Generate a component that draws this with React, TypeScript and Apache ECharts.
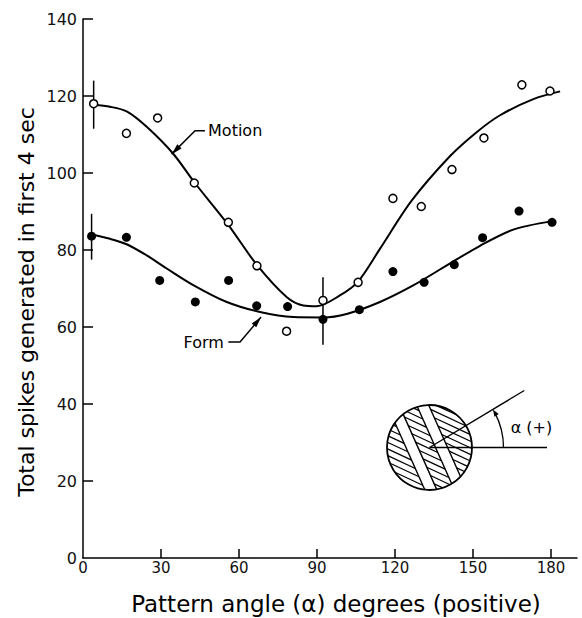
import React, { useEffect, useRef } from "react";
import * as echarts from "echarts";

// ---- Data ----
const motionAngles = [4.1, 16.7, 28.7, 42.8, 55.9, 66.9, 78.3, 92.3, 105.8, 119.2, 130.1, 141.9, 154.2, 168.8, 179.6];
const motionSpikes = [118, 110.3, 114.3, 97.4, 87.2, 75.9, 58.9, 66.9, 71.6, 93.4, 91.3, 100.9, 109.1, 122.9, 121.3];

const formAngles = [3.3, 16.7, 29.5, 43.2, 56, 66.8, 78.7, 92.3, 106.3, 119.2, 131.2, 142.8, 153.7, 167.7, 180.4];
const formSpikes = [83.6, 83.3, 72.1, 66.5, 72.1, 65.5, 65.3, 62.0, 64.5, 74.4, 71.6, 76.2, 83.2, 90.1, 87.2];

// fitted curves
const motionCurveX = [4.1, 10.4, 16.8, 24.5, 34.7, 42.8, 55.8, 66.8, 78.3, 84.7, 89.9, 98.8, 105.8, 114.2, 126.4, 141.2, 151.4, 160.4, 173.2, 183.5];
const motionCurveY = [117.7, 117.2, 116.0, 112.0, 105.0, 97.6, 86.6, 76.2, 67.8, 65.6, 65.4, 68.2, 71.8, 80.3, 92.8, 104.4, 110.6, 115.0, 119.2, 121.2];

const formCurveX = [3.3, 10.4, 16.8, 24.5, 32.2, 42.4, 55.3, 68.1, 80.9, 92.3, 101.4, 114.2, 127, 139.9, 152.7, 165.5, 180.4];
const formCurveY = [84, 82.9, 81.5, 78.6, 75.2, 70.9, 66.5, 63.9, 62.6, 62.5, 63.4, 66.5, 70.8, 76, 81.1, 85.3, 87.5];

// error bars
const errorBarAngles = [4.1, 3.3, 92.3];
const errorBarLow = [111.5, 77.5, 55.4];
const errorBarHigh = [124, 89.4, 72.9];

// axis ticks
const xTickValues = [0, 30, 60, 90, 120, 150, 180];
const yTickValues = [0, 20, 40, 60, 80, 100, 120, 140];

// annotations (data coordinates)
const motionLabel = { text: "Motion", at: [48.1, 111] };
const motionLeader = [[46.9, 111], [43.1, 111], [34.1, 104.9]];
const formLabel = { text: "Form", at: [54.2, 56.1] };
const formLeader = [[55.9, 56.1], [60.4, 56.1], [68.5, 62.6]];

const FONT = "DejaVu Sans";

function arrowHead(tip: number[], from: number[], len = 10, half = 3) {
  const dx = tip[0] - from[0];
  const dy = tip[1] - from[1];
  const d = Math.hypot(dx, dy) || 1;
  const ux = dx / d, uy = dy / d;
  const bx = tip[0] - ux * len, by = tip[1] - uy * len;
  return [tip, [bx - uy * half, by + ux * half], [bx + uy * half, by - ux * half]];
}

function buildInset(): any[] {
  const cx = 429.5, cy = 447.5, R = 42.5;
  const els: any[] = [];
  const a = (25 * Math.PI) / 180; // hatch direction
  const hx = Math.cos(a), hy = Math.sin(a);
  const mx = -hy, my = hx;
  const b = (66 * Math.PI) / 180; // band direction
  const dx = Math.cos(b), dy = Math.sin(b);
  const nx = Math.sin(b), ny = -Math.cos(b);
  const edges = [-21.5, -10.5, 5.5, 16.5];
  const hatched = [[-R, edges[0]], [edges[1], edges[2]], [edges[3], R]];
  const mn = mx * nx + my * ny;
  const hn = hx * nx + hy * ny;
  for (let off = -R + 1.5; off < R; off += 6) {
    const half = Math.sqrt(R * R - off * off);
    for (const [v0, v1] of hatched) {
      let t0 = (v0 - off * mn) / hn;
      let t1 = (v1 - off * mn) / hn;
      if (t0 > t1) [t0, t1] = [t1, t0];
      const s0 = Math.max(t0, -half), s1 = Math.min(t1, half);
      if (s1 > s0) {
        els.push({
          type: "line",
          shape: {
            x1: cx + off * mx + s0 * hx, y1: cy + off * my + s0 * hy,
            x2: cx + off * mx + s1 * hx, y2: cy + off * my + s1 * hy,
          },
          style: { stroke: "#000", lineWidth: 1.2 },
          silent: true,
        });
      }
    }
  }
  for (const v of edges) {
    const half = Math.sqrt(R * R - v * v);
    els.push({
      type: "line",
      shape: {
        x1: cx + v * nx - half * dx, y1: cy + v * ny - half * dy,
        x2: cx + v * nx + half * dx, y2: cy + v * ny + half * dy,
      },
      style: { stroke: "#000", lineWidth: 1.4 },
      silent: true,
    });
  }
  els.push({ type: "circle", shape: { cx, cy, r: R }, style: { fill: "none", stroke: "#000", lineWidth: 1.8 }, silent: true });
  els.push({ type: "line", shape: { x1: cx, y1: cy, x2: 547, y2: cy }, style: { stroke: "#000", lineWidth: 1.3 } });
  const ang = (31 * Math.PI) / 180;
  els.push({
    type: "line",
    shape: { x1: cx, y1: cy, x2: cx + 110.6 * Math.cos(ang), y2: cy - 110.6 * Math.sin(ang) },
    style: { stroke: "#000", lineWidth: 1.3 },
  });
  const ar = 74;
  els.push({
    type: "arc",
    shape: { cx, cy, r: ar, startAngle: -ang + 0.05, endAngle: 0, clockwise: true },
    style: { stroke: "#000", lineWidth: 1.3, fill: "none" },
  });
  const tip = [cx + ar * Math.cos(ang), cy - ar * Math.sin(ang)];
  const from = [tip[0] + 0.515 * 8, tip[1] + 0.857 * 8];
  els.push({ type: "polygon", shape: { points: arrowHead(tip, from, 7, 2.5) }, style: { fill: "#000" } });
  els.push({
    type: "text",
    x: 531.5,
    y: 427,
    style: { text: "α (+)", font: `16px "${FONT}"`, fill: "#000", align: "center", verticalAlign: "middle" },
  });
  return els;
}

export default function App() {
  const ref = useRef<HTMLDivElement>(null);
  useEffect(() => {
    if (!ref.current) return;
    const chart = echarts.init(ref.current, null, { renderer: "svg" });
    const zip = (xs: number[], ys: number[]) => xs.map((x, i) => [x, ys[i]]);
    chart.setOption({
      animation: false,
      backgroundColor: "#fff",
      grid: { left: 83, right: 5, top: 19, bottom: 60 },
      xAxis: {
        type: "value",
        min: 0,
        max: 190,
        interval: 30,
        splitLine: { show: false },
        axisLine: { lineStyle: { color: "#000", width: 1.5 } },
        axisTick: { inside: true, length: 9, customValues: xTickValues.slice(1), lineStyle: { color: "#000", width: 1.5 } },
        axisLabel: { customValues: xTickValues, margin: 2, color: "#111", fontFamily: FONT, fontSize: 15 },
      },
      yAxis: {
        type: "value",
        min: 0,
        max: 140,
        interval: 20,
        splitLine: { show: false },
        axisLine: { lineStyle: { color: "#000", width: 1.5 } },
        axisTick: { inside: true, length: 10, customValues: yTickValues.slice(1), lineStyle: { color: "#000", width: 1.5 } },
        axisLabel: { customValues: yTickValues, margin: 6, color: "#111", fontFamily: FONT, fontSize: 16 },
      },
      series: [
        {
          type: "line",
          data: zip(motionCurveX, motionCurveY),
          smooth: 0.3,
          symbol: "none",
          lineStyle: { color: "#000", width: 2 },
          z: 2,
        },
        {
          type: "line",
          data: zip(formCurveX, formCurveY),
          smooth: 0.3,
          symbol: "none",
          lineStyle: { color: "#000", width: 2 },
          z: 2,
        },
        {
          type: "custom",
          data: errorBarAngles.map((x, i) => [x, errorBarLow[i], errorBarHigh[i]]),
          renderItem: (params: any, api: any) => {
            const p1 = api.coord([api.value(0), api.value(1)]);
            const p2 = api.coord([api.value(0), api.value(2)]);
            return {
              type: "line",
              shape: { x1: p1[0], y1: p1[1], x2: p2[0], y2: p2[1] },
              style: { stroke: "#000", lineWidth: 1.5 },
            };
          },
          z: 3,
        },
        {
          type: "scatter",
          data: zip(motionAngles, motionSpikes),
          symbol: "circle",
          symbolSize: 8,
          itemStyle: { color: "#fff", borderColor: "#000", borderWidth: 1.5, opacity: 1 },
          z: 4,
        },
        {
          type: "scatter",
          data: zip(formAngles, formSpikes),
          symbol: "circle",
          symbolSize: 9,
          itemStyle: { color: "#000", opacity: 1 },
          z: 4,
        },
      ],
    });

    const px = (p: number[]) => chart.convertToPixel({ gridIndex: 0 }, p) as number[];
    const leaderEls = (pts: number[][]) => {
      const pp = pts.map(px);
      const tip = pp[pp.length - 1];
      const prev = pp[pp.length - 2];
      return [
        { type: "polyline", shape: { points: pp }, style: { stroke: "#000", lineWidth: 1.5, fill: "none" } },
        { type: "polygon", shape: { points: arrowHead(tip, prev, 11, 3) }, style: { fill: "#000" } },
      ];
    };
    const ml = px(motionLabel.at);
    const fl = px(formLabel.at);
    chart.setOption({
      graphic: [
        ...buildInset(),
        ...leaderEls(motionLeader),
        ...leaderEls(formLeader),
        {
          type: "text",
          x: ml[0],
          y: ml[1],
          style: { text: motionLabel.text, font: `16px "${FONT}"`, fill: "#000", align: "left", verticalAlign: "middle" },
        },
        {
          type: "text",
          x: fl[0],
          y: fl[1],
          style: { text: formLabel.text, font: `16px "${FONT}"`, fill: "#000", align: "right", verticalAlign: "middle" },
        },
        {
          type: "text",
          x: 336,
          y: 604,
          style: {
            text: "Pattern angle (α) degrees (positive)",
            font: `23px "${FONT}"`,
            fill: "#000",
            align: "center",
            verticalAlign: "middle",
          },
        },
        {
          type: "text",
          x: 26,
          y: 302,
          rotation: Math.PI / 2,
          style: {
            text: "Total spikes generated in first 4 sec",
            font: `22px "${FONT}"`,
            fill: "#000",
            align: "center",
            verticalAlign: "middle",
          },
        },
      ],
    });
    return () => chart.dispose();
  }, []);
  return (
    <div
      ref={ref}
      style={{ position: "fixed", left: 0, top: 0, width: 582, height: 618, background: "#fff" }}
    />
  );
}
